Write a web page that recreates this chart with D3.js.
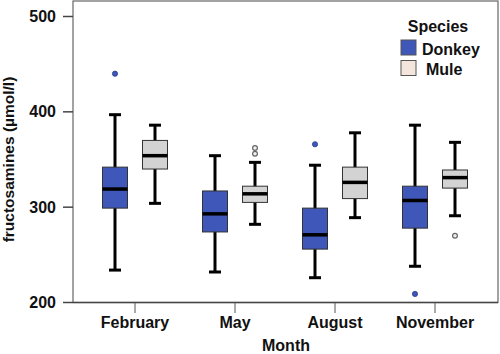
<!DOCTYPE html>
<html>
<head>
<meta charset="utf-8">
<script src="https://cdn.jsdelivr.net/npm/d3@7"></script>
<style>
  body { margin: 0; background: #fff; }
  text { font-family: "Liberation Sans", Arial, sans-serif; font-weight: bold; }
</style>
</head>
<body>
<div id="chart"></div>
<script>
// categories and series
var months = ["February", "May", "August", "November"];
var species = ["Donkey", "Mule"];

// box stats per month: [lowWhisker, q1, median, q3, highWhisker]
var donkeyStats = [
  [234, 299, 319, 342, 397],
  [232, 274, 293, 317, 354],
  [226, 256, 271, 299, 344],
  [238, 278, 307, 322, 386]
];
var muleStats = [
  [304, 340, 354, 370, 386],
  [282, 305, 314, 322, 347],
  [289, 309, 326, 342, 378],
  [291, 320, 331, 339, 368]
];
// outliers per month
var donkeyOutliers = [[440], [], [366], [209]];
var muleOutliers = [[], [356, 362], [], [270]];

var yTicks = [200, 300, 400, 500];

var colors = { Donkey: "#3f57b8", Mule: "#d3d3d3" };
var legendColors = { Donkey: "#3f57b8", Mule: "#f4e6dc" };

var width = 500, height = 354;
var svg = d3.select("#chart").append("svg").attr("width", width).attr("height", height);

// scales
var x = d3.scaleBand().domain(months).range([85, 485]);
var y = d3.scaleLinear().domain([200, 500]).range([302.5, 16.5]);
var plotL = 73, plotR = 498, plotT = 1, plotB = 302.5;

// frame
svg.append("rect").attr("x", plotL).attr("y", plotT).attr("width", plotR - plotL).attr("height", plotB - plotT)
  .attr("fill", "none").attr("stroke", "#666").attr("stroke-width", 1.2);
svg.append("line").attr("x1", plotL).attr("x2", plotR).attr("y1", plotB).attr("y2", plotB)
  .attr("stroke", "#444").attr("stroke-width", 1.5);

// y axis ticks and labels
yTicks.forEach(function(t) {
  svg.append("line").attr("x1", 63).attr("x2", plotL).attr("y1", y(t)).attr("y2", y(t))
    .attr("stroke", "#444").attr("stroke-width", 1.5);
  svg.append("text").attr("x", 56).attr("y", y(t) + 5.5).attr("text-anchor", "end")
    .attr("font-size", 16).attr("fill", "#111").text(t);
});

// x axis ticks and labels
months.forEach(function(m) {
  var cx = x(m) + x.bandwidth() / 2;
  svg.append("line").attr("x1", cx).attr("x2", cx).attr("y1", plotB).attr("y2", 313)
    .attr("stroke", "#555").attr("stroke-width", 1);
  svg.append("text").attr("x", cx).attr("y", 328).attr("text-anchor", "middle")
    .attr("font-size", 16).attr("fill", "#111").text(m);
});

// axis titles
svg.append("text").attr("x", 286).attr("y", 351).attr("text-anchor", "middle")
  .attr("font-size", 16).attr("fill", "#111").text("Month");
svg.append("text").attr("transform", "translate(14," + y(350) + ") rotate(-90)")
  .attr("text-anchor", "middle").attr("font-size", 15.5).attr("fill", "#111").text("fructosamines (µmol/l)");

// draw one box
function drawBox(cx, s, fill) {
  var g = svg.append("g");
  var bw = 25, cap = 12;
  g.append("line").attr("x1", cx).attr("x2", cx).attr("y1", y(s[0])).attr("y2", y(s[4]))
    .attr("stroke", "#000").attr("stroke-width", 3);
  [s[0], s[4]].forEach(function(v) {
    g.append("line").attr("x1", cx - cap / 2).attr("x2", cx + cap / 2).attr("y1", y(v)).attr("y2", y(v))
      .attr("stroke", "#000").attr("stroke-width", 3);
  });
  g.append("rect").attr("x", cx - bw / 2).attr("y", y(s[3])).attr("width", bw).attr("height", y(s[1]) - y(s[3]))
    .attr("fill", fill).attr("stroke", "#333").attr("stroke-width", 1);
  g.append("line").attr("x1", cx - bw / 2).attr("x2", cx + bw / 2).attr("y1", y(s[2])).attr("y2", y(s[2]))
    .attr("stroke", "#000").attr("stroke-width", 3.5);
}

months.forEach(function(m, i) {
  var cx = x(m) + x.bandwidth() / 2;
  drawBox(cx - 20, donkeyStats[i], colors.Donkey);
  drawBox(cx + 20, muleStats[i], colors.Mule);
  donkeyOutliers[i].forEach(function(v) {
    svg.append("circle").attr("cx", cx - 20).attr("cy", y(v)).attr("r", 2.6)
      .attr("fill", "#3f57b8").attr("stroke", "#2a3f8f").attr("stroke-width", 0.8);
  });
  muleOutliers[i].forEach(function(v) {
    svg.append("circle").attr("cx", cx + 20).attr("cy", y(v)).attr("r", 2.4)
      .attr("fill", "#eee").attr("stroke", "#666").attr("stroke-width", 1.2);
  });
});

// legend
svg.append("text").attr("x", 438).attr("y", 32).attr("text-anchor", "middle")
  .attr("font-size", 16).attr("fill", "#111").text("Species");
species.forEach(function(sp, i) {
  var ly = 40 + i * 20.5;
  svg.append("rect").attr("x", 401).attr("y", ly).attr("width", 15).attr("height", 15)
    .attr("fill", legendColors[sp]).attr("stroke", "#555").attr("stroke-width", 1);
  svg.append("text").attr("x", i === 0 ? 422 : 426).attr("y", ly + 14.5)
    .attr("font-size", 16).attr("fill", "#111").text(sp);
});
</script>
</body>
</html>
